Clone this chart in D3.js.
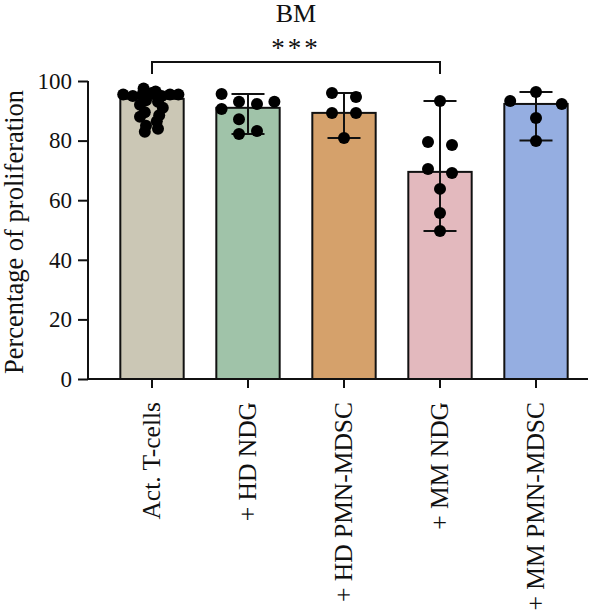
<!DOCTYPE html>
<html><head><meta charset="utf-8">
<script src="https://cdn.jsdelivr.net/npm/d3@7"></script>
<style>body{margin:0;background:#fff}</style>
</head><body><div id="chart"></div>
<script>
const categories = ["Act. T-cells", "+ HD NDG", "+ HD PMN-MDSC", "+ MM NDG", "+ MM PMN-MDSC"];
const means = [94, 91, 89.3, 69.5, 92.3];
const errLow = [null, 82.2, 80.9, 49.7, 80];
const errHigh = [null, 95.6, 96, 93.3, 96.3];
const colors = ["#cbc7b5", "#a0c3a9", "#d5a16b", "#e3b9be", "#95aee1"];
const yTicks = [0, 20, 40, 60, 80, 100];
// individual points: values and horizontal jitter slot (in point diameters)
const ptsAct = [95.5, 95, 95.5, 96, 95, 95.5, 95.5, 97.5, 96.5, 93.5, 93, 92, 91, 89.5, 88.5, 88, 86.5, 85, 84, 83];
const jitAct = [-2.4, -1.6, -0.8, 0, 0.8, 1.5, 2.2, -0.7, 0.3, -0.5, 0.5, -1, 0.9, -0.6, 0.6, -1, 0.4, -0.5, 0.5, -0.6];
const ptsHDNDG = [95.6, 90.6, 93, 92.3, 93, 87.2, 82.2, 83.2];
const jitHDNDG = [-2.2, -2.2, -0.75, 0.75, 2.2, -0.75, -0.75, 0.75];
const ptsHDPMN = [96, 94.6, 89.3, 89.3, 80.9];
const jitHDPMN = [-1, 1, -1, 1, 0];
const ptsMMNDG = [93.3, 79.5, 78.5, 70.5, 69.1, 63.8, 55.7, 49.7];
const jitMMNDG = [0, -1, 1, -1, 1, 0, 0, 0];
const ptsMMPMN = [96.3, 93.3, 92.3, 87.6, 79.9];
const jitMMPMN = [0, -2.15, 2.15, 0, 0];
const groupPts = [ptsAct, ptsHDNDG, ptsHDPMN, ptsMMNDG, ptsMMPMN];
const groupJit = [jitAct, jitHDNDG, jitHDPMN, jitMMNDG, jitMMPMN];
const title = "BM";
const sig = {from: 0, to: 3, label: "***"};

const W = 600, H = 615;
const font = "'Liberation Serif', 'Times New Roman', serif";
const svg = d3.select("#chart").append("svg").attr("width", W).attr("height", H);

const x = d3.scaleBand().domain(categories).range([104, 584]).paddingInner(0.34).paddingOuter(0.17);
const y = d3.scaleLinear().domain([0, 100]).range([379, 81]);
const R = 6;

// bars
svg.selectAll("rect.bar").data(categories).join("rect")
  .attr("x", d => x(d)).attr("y", (d, i) => y(means[i]))
  .attr("width", x.bandwidth()).attr("height", (d, i) => y(0) - y(means[i]))
  .attr("fill", (d, i) => colors[i]).attr("stroke", "#111").attr("stroke-width", 2);

// error bars
categories.forEach((c, i) => {
  if (errLow[i] == null) return;
  const cx = x(c) + x.bandwidth() / 2;
  const g = svg.append("g").attr("stroke", "#111").attr("stroke-width", 2);
  g.append("line").attr("x1", cx).attr("x2", cx).attr("y1", y(errLow[i])).attr("y2", y(errHigh[i]));
  [errLow[i], errHigh[i]].forEach(v => {
    g.append("line").attr("x1", cx - 16.5).attr("x2", cx + 16.5).attr("y1", y(v)).attr("y2", y(v));
  });
});

// points
categories.forEach((c, i) => {
  const cx = x(c) + x.bandwidth() / 2;
  svg.append("g").selectAll("circle").data(groupPts[i]).join("circle")
    .attr("cx", (v, j) => cx + groupJit[i][j] * 2 * R)
    .attr("cy", v => y(v)).attr("r", R).attr("fill", "#000");
});

// axes
const yAxis = svg.append("g").attr("transform", "translate(88,0)")
  .call(d3.axisLeft(y).tickValues(yTicks).tickSize(10).tickPadding(6));
const xAxis = svg.append("g").attr("transform", "translate(0,379)")
  .call(d3.axisBottom(x).tickSize(9).tickPadding(0));
[yAxis, xAxis].forEach(a => {
  a.selectAll("path,line").attr("stroke", "#111").attr("stroke-width", 2);
  a.selectAll("text").attr("font-family", font).attr("fill", "#111");
});
yAxis.selectAll("text").attr("font-size", 23);
xAxis.selectAll("text").attr("font-size", 25.5);
xAxis.select("path.domain").attr("d", "M88,0H588");
yAxis.select("path.domain").attr("d", "M0,380V81");
xAxis.selectAll(".tick text")
  .attr("transform", "rotate(-90)").attr("text-anchor", "end")
  .attr("x", -23).attr("y", 0).attr("dy", "0.33em");

// y label
svg.append("text").attr("transform", "translate(23,232) rotate(-90)")
  .attr("text-anchor", "middle").attr("font-family", font).attr("font-size", 26.5)
  .attr("fill", "#111").text("Percentage of proliferation");

// significance bracket
const x1 = x(categories[sig.from]) + x.bandwidth() / 2, x2 = x(categories[sig.to]) + x.bandwidth() / 2;
svg.append("path").attr("d", `M${x1},74V62H${x2}V74`).attr("fill", "none")
  .attr("stroke", "#111").attr("stroke-width", 2);
svg.append("text").attr("x", (x1 + x2) / 2).attr("y", 57).attr("text-anchor", "middle")
  .attr("font-family", font).attr("font-size", 27).attr("letter-spacing", 3).attr("fill", "#111").text(sig.label);
svg.append("text").attr("x", (x1 + x2) / 2).attr("y", 22).attr("text-anchor", "middle")
  .attr("font-family", font).attr("font-size", 26).attr("fill", "#111").text(title);
</script></body></html>
